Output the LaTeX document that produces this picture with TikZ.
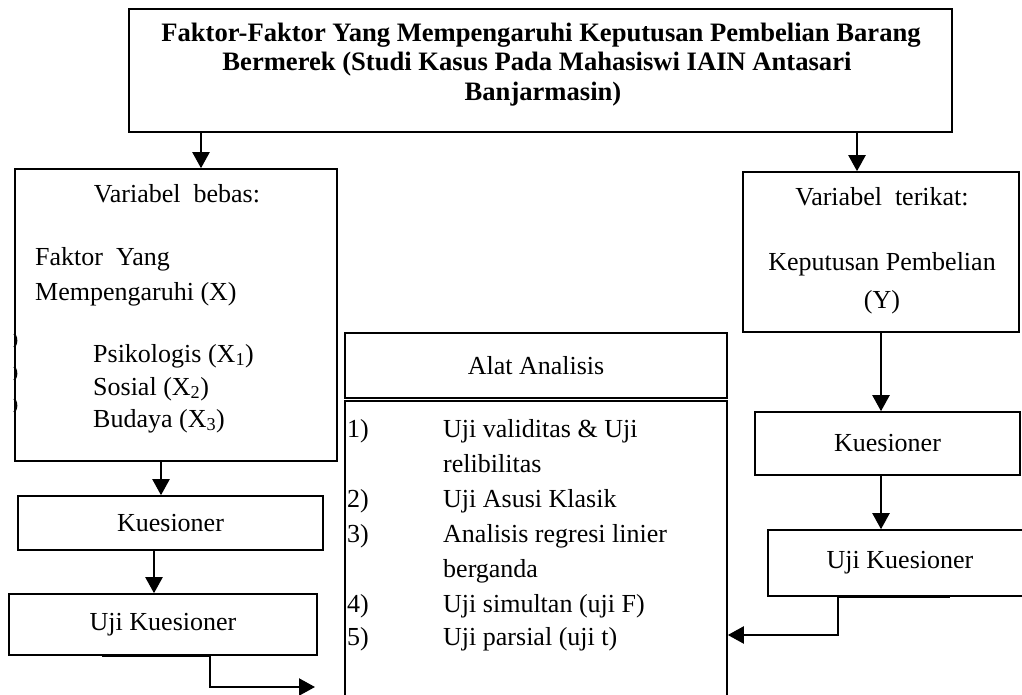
\documentclass[tikz,border=0pt]{standalone}
\usepackage{fontspec}
\setmainfont{Liberation Serif}
\usetikzlibrary{arrows.meta}
\tikzset{
  box/.style={draw=black, line width=1.6pt, inner sep=0pt, rectangle},
  txt/.style={inner sep=0pt, font=\fontsize{26pt}{31pt}\selectfont},
  ttl/.style={inner sep=0pt, font=\fontsize{26.6pt}{30pt}\selectfont\bfseries},
  arr/.style={line width=2.2pt, -{Triangle[width=17pt,length=16pt]}},
  heavy/.style={line width=3pt},
  bul/.style={line width=1.4pt}
}
\begin{document}
\begin{tikzpicture}[x=1pt,y=-1pt]
\useasboundingbox (0,0) rectangle (1022,695);
\clip (0,0) rectangle (1022,695);
\fill[white] (0,0) rectangle (1022,695);

% boxes
\node[box, minimum width=823pt, minimum height=123pt] (title) at (540.5,70.5) {};
\node[box, minimum width=322pt, minimum height=292pt] (vb) at (176,315) {};
\node[box, minimum width=305pt, minimum height=54pt] (kl) at (170.5,523) {};
\node[box, minimum width=308pt, minimum height=61pt] (ukl) at (163,624.5) {};
\node[box, minimum width=382pt, minimum height=65pt] (alat) at (536,365.5) {};
\node[box, minimum width=382pt, minimum height=359pt] (items) at (536,580.5) {};
\node[box, minimum width=276pt, minimum height=160pt] (vt) at (881,252) {};
\node[box, minimum width=265pt, minimum height=63pt] (kr) at (887.5,443.5) {};
\node[box, minimum width=292pt, minimum height=66pt] (ukr) at (914,563) {};

% title text
\node[ttl, anchor=base] (t1) at (541,42) {Faktor-Faktor Yang Mempengaruhi Keputusan Pembelian Barang};
\node[ttl, anchor=base] (t2) at (537,71) {Bermerek (Studi Kasus Pada Mahasiswi IAIN Antasari};
\node[ttl, anchor=base] (t3) at (543,101) {Banjarmasin)};

% left box text
\node[txt, anchor=base] (vb1) at (177,203) {Variabel\ \ bebas:};
\node[txt, anchor=base west] (vb2) at (35,265) {Faktor\ \ Yang};
\node[txt, anchor=base west] (vb3) at (35,300) {Mempengaruhi (X)};
\node[txt, anchor=base west] (vb4) at (93,362) {Psikologis (X\textsubscript{1})};
\node[txt, anchor=base west] (vb5) at (93,395) {Sosial (X\textsubscript{2})};
\node[txt, anchor=base west] (vb6) at (93,427) {Budaya (X\textsubscript{3})};
\draw[bul] (14,347) arc[start angle=70, end angle=-70, x radius=4, y radius=7];
\draw[bul] (14,380) arc[start angle=70, end angle=-70, x radius=4, y radius=7];
\draw[bul] (14,412) arc[start angle=70, end angle=-70, x radius=4, y radius=7];

\node[txt] (klt) at (kl) {Kuesioner};
\node[txt] (uklt) at (ukl) {Uji Kuesioner};

% analysis
\node[txt] (alatt) at (alat) {Alat Analisis};
\node[txt, anchor=base west] (n1) at (347,437) {1)};
\node[txt, anchor=base west] (i1) at (443,437) {Uji validitas \& Uji};
\node[txt, anchor=base west] (i1b) at (443,472) {relibilitas};
\node[txt, anchor=base west] (n2) at (347,507) {2)};
\node[txt, anchor=base west] (i2) at (443,507) {Uji Asusi Klasik};
\node[txt, anchor=base west] (n3) at (347,542) {3)};
\node[txt, anchor=base west] (i3) at (443,542) {Analisis regresi linier};
\node[txt, anchor=base west] (i3b) at (443,577) {berganda};
\node[txt, anchor=base west] (n4) at (347,612) {4)};
\node[txt, anchor=base west] (i4) at (443,612) {Uji simultan (uji F)};
\node[txt, anchor=base west] (n5) at (347,645) {5)};
\node[txt, anchor=base west] (i5) at (443,645) {Uji parsial (uji t)};

% right text
\node[txt, anchor=base] (vt1) at (882,205) {Variabel\ \ terikat:};
\node[txt, anchor=base] (vt2) at (882,270) {Keputusan Pembelian};
\node[txt, anchor=base] (vt3) at (882,308) {(Y)};
\node[txt] (krt) at (kr) {Kuesioner};
\node[txt] (ukrt) at (900,563) {Uji Kuesioner};

% helper coordinates
\coordinate (xl) at (201,0);
\coordinate (xr) at (857,0);
\coordinate (xa) at (161,0);
\coordinate (xb) at (154,0);
\coordinate (xc) at (881,0);
\coordinate (lb1) at (102,0);
\coordinate (lb2) at (210,0);
\coordinate (lt) at (315,687);
\coordinate (rb1) at (838,0);
\coordinate (rb2) at (950,0);
\coordinate (ry) at (0,635);

% connectors
\draw[arr] (xl |- title.south) -- (xl |- vb.north);
\draw[arr] (xr |- title.south) -- (xr |- vt.north);
\draw[arr] (xa |- vb.south) -- (xa |- kl.north);
\draw[arr] (xb |- kl.south) -- (xb |- ukl.north);
\draw[arr] (xc |- vt.south) -- (xc |- kr.north);
\draw[arr] (xc |- kr.south) -- (xc |- ukr.north);
\draw[heavy] (lb1 |- ukl.south) -- (lb2 |- ukl.south);
\draw[arr] (lb2 |- ukl.south) |- (lt);
\draw[heavy] (rb1 |- ukr.south) -- (rb2 |- ukr.south);
\draw[arr] (rb1 |- ukr.south) |- (items.east |- ry);
\end{tikzpicture}
\end{document}
